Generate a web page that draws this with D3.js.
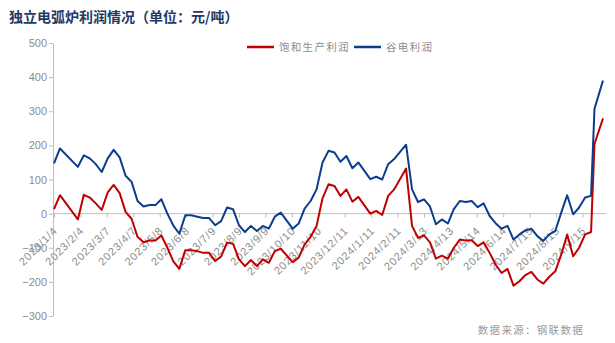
<!DOCTYPE html>
<html>
<head>
<meta charset="utf-8">
<script src="https://cdn.jsdelivr.net/npm/d3@7"></script>
<style>
  html, body { margin: 0; padding: 0; background: #fff; }
  svg { display: block; }
</style>
</head>
<body>
<svg id="chart" width="615" height="343"></svg>
<script>
// Weekly dates of the observations (holiday weeks have no data)
const dates = [
  "2023-01-04","2023-01-11","2023-02-01","2023-02-08","2023-02-15","2023-02-22",
  "2023-03-01","2023-03-08","2023-03-15","2023-03-22","2023-03-29","2023-04-05",
  "2023-04-12","2023-04-19","2023-04-26","2023-05-03","2023-05-10","2023-05-17",
  "2023-05-24","2023-05-31","2023-06-07","2023-06-14","2023-06-21","2023-06-28",
  "2023-07-05","2023-07-12","2023-07-19","2023-07-26","2023-08-02","2023-08-09",
  "2023-08-16","2023-08-23","2023-08-30","2023-09-06","2023-09-13","2023-09-20",
  "2023-09-27","2023-10-11","2023-10-18","2023-10-25","2023-11-01","2023-11-08",
  "2023-11-15","2023-11-22","2023-11-29","2023-12-06","2023-12-13","2023-12-20",
  "2023-12-27","2024-01-10","2024-01-17","2024-01-24","2024-01-31","2024-02-07",
  "2024-02-21","2024-02-28","2024-03-06","2024-03-13","2024-03-20","2024-03-27",
  "2024-04-03","2024-04-10","2024-04-17","2024-04-24","2024-05-01","2024-05-08",
  "2024-05-15","2024-05-22","2024-05-29","2024-06-05","2024-06-12","2024-06-19",
  "2024-06-26","2024-07-03","2024-07-10","2024-07-17","2024-07-24","2024-07-31",
  "2024-08-07","2024-08-14","2024-08-21","2024-08-28","2024-09-04","2024-09-11",
  "2024-09-18","2024-09-25","2024-09-29","2024-10-09"
];

// 饱和生产利润 (元/吨)
const fullProfit = [
   13,  54, -17,  55,  47,  30,
   11,  62,  84,  60,   5, -15,
  -68, -84, -79, -79, -64,-100,
 -140,-162,-107,-107,-110,-115,
 -115,-139,-126, -85, -88,-134,
 -154,-136,-154,-134,-144,-110,
 -103,-142,-129, -90, -68, -36,
   45,  86,  81,  52,  71,  35,
   49,   0,   8,  -4,  52,  71,
  132, -36, -71, -64, -84,-132,
 -123,-132,-100, -76, -79, -78,
  -95, -84,-115,-149,-174,-162,
 -211,-198,-180,-171,-193,-205,
 -185,-169,-120, -61,-125,-100,
  -61, -54, 204, 279
];

// 谷电利润 (元/吨)
const valleyProfit = [
  147, 191, 137, 171, 162, 145,
  122, 162, 187, 165, 111,  93,
   37,  21,  25,  25,  42,   0,
  -35, -59,  -5,  -5,  -9, -13,
  -13, -34, -22,  18,  13, -34,
  -54, -36, -51, -36, -44,  -9,
    3, -44, -29,  15,  37,  71,
  150, 184, 179, 152, 169, 133,
  150, 101, 108, 100, 145, 160,
  202,  71,  34,  42,  21, -31,
  -17, -29,  13,  37,  34,  37,
   19,  30,  -7, -28, -44, -36,
  -76, -61, -49, -44, -66, -80,
  -61, -51,   3,  54,  -2,  18,
   47,  52, 307, 390
];

// Date axis labels, one every 31 days
const tickLabels = [
  "2023/1/4","2023/2/4","2023/3/7","2023/4/7","2023/5/8","2023/6/8","2023/7/9",
  "2023/8/9","2023/9/9","2023/10/10","2023/11/10","2023/12/11","2024/1/11",
  "2024/2/11","2024/3/13","2024/4/13","2024/5/14","2024/6/14","2024/7/15",
  "2024/8/15","2024/9/15"
];

const yTicks = [500, 400, 300, 200, 100, 0, -100, -200, -300];

const seriesNames = ["饱和生产利润", "谷电利润"];
const seriesColors = ["#c00000", "#0b3d8e"];

const parseISO = d3.timeParse("%Y-%m-%d");
const parseLabel = d3.timeParse("%Y/%m/%d");
const tickDates = tickLabels.map(parseLabel);
const fmtTick = d => `${d.getFullYear()}/${d.getMonth() + 1}/${d.getDate()}`;

const svg = d3.select("#chart");
const axisGray = "#bfbfbf";
const textGray = "#8c8c8c";

const x = d3.scaleTime()
  .domain([parseISO(dates[0]), parseISO(dates[dates.length - 1])])
  .range([54, 603]);
const y = d3.scaleLinear().domain([-300, 500]).range([316, 43]);

// Title
svg.append("text")
  .attr("x", 9).attr("y", 22)
  .attr("font-family", "'Noto Sans CJK SC', sans-serif")
  .attr("font-weight", "bold")
  .attr("font-size", 14)
  .attr("fill", "#1f3864")
  .text("独立电弧炉利润情况（单位：元/吨）");

// Y axis
const yAxis = svg.append("g")
  .attr("transform", "translate(53,0)")
  .call(d3.axisLeft(y).tickValues(yTicks).tickSize(4).tickSizeOuter(0)
    .tickFormat(d => d < 0 ? "\u2212" + Math.abs(d) : d));
yAxis.select(".domain").attr("stroke", axisGray);
yAxis.selectAll(".tick line").attr("stroke", axisGray);
yAxis.selectAll("text")
  .attr("fill", textGray)
  .attr("font-family", "'Liberation Sans', Arial, sans-serif")
  .attr("font-size", 11)
  .attr("x", -6);

// X axis along the zero line
const xAxis = svg.append("g")
  .attr("transform", `translate(0,${y(0)})`)
  .call(d3.axisBottom(x).tickValues(tickDates).tickFormat(fmtTick)
    .tickSize(4).tickSizeOuter(0));
xAxis.select(".domain").attr("stroke", axisGray).attr("d", `M53,0H606`);
xAxis.selectAll(".tick line").attr("stroke", axisGray);
xAxis.selectAll("text")
  .attr("fill", textGray)
  .attr("font-family", "'Liberation Sans', Arial, sans-serif")
  .attr("font-size", 11)
  .attr("letter-spacing", 0.8)
  .attr("text-anchor", "end")
  .attr("x", 0).attr("y", 0).attr("dy", "0.35em")
  .attr("transform", "translate(1,15) rotate(-45)");

// Lines
const allSeries = [fullProfit, valleyProfit];
const line = d3.line()
  .x((d, i) => x(parseISO(dates[i])))
  .y(d => y(d));

svg.append("g").selectAll("path")
  .data(allSeries)
  .join("path")
  .attr("d", d => line(d))
  .attr("fill", "none")
  .attr("stroke", (d, i) => seriesColors[i])
  .attr("stroke-width", 2)
  .attr("stroke-linejoin", "round");

// Legend
const legendX = [247, 354];
const legend = svg.append("g");
seriesNames.forEach((name, i) => {
  legend.append("line")
    .attr("x1", legendX[i]).attr("x2", legendX[i] + 27)
    .attr("y1", 47).attr("y2", 47)
    .attr("stroke", seriesColors[i]).attr("stroke-width", 2.5);
  legend.append("text")
    .attr("x", legendX[i] + 32).attr("y", 51)
    .attr("font-family", "'Noto Sans CJK SC', sans-serif")
    .attr("font-size", 10.5)
    .attr("letter-spacing", 1.3)
    .attr("fill", textGray)
    .text(name);
});

// Source note
svg.append("text")
  .attr("x", 584).attr("y", 334)
  .attr("text-anchor", "end")
  .attr("font-family", "'Noto Sans CJK SC', sans-serif")
  .attr("font-size", 10.5)
  .attr("letter-spacing", 1.3)
  .attr("fill", "#9a9a9a")
  .text("数据来源：钢联数据");
</script>
</body>
</html>
